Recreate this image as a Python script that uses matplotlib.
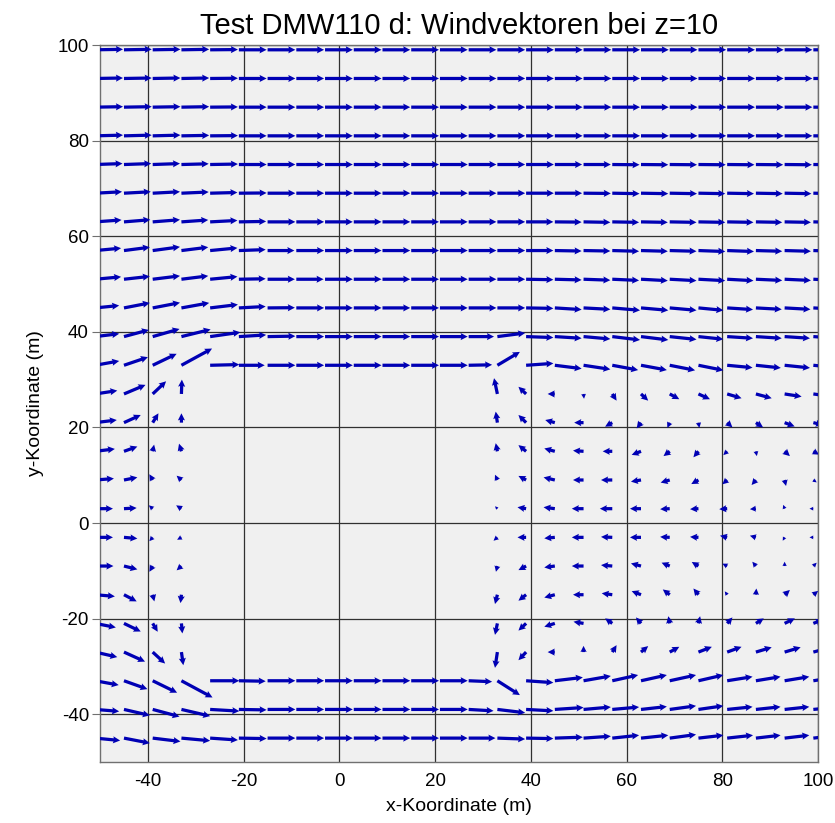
import numpy as np
import matplotlib
matplotlib.use("Agg")
import matplotlib.pyplot as plt

N = np.nan

# grid of vector tails (m)
x_coords = [-51, -45, -39, -33, -27, -21, -15, -9, -3, 3, 9, 15, 21, 27,
            33, 39, 45, 51, 57, 63, 69, 75, 81, 87, 93, 99]
y_coords = [99, 93, 87, 81, 75, 69, 63, 57, 51, 45, 39, 33, 27, 21, 15, 9,
            3, -3, -9, -15, -21, -27, -33, -39, -45]

# vector components (drawn in m), one row per y, NaN = inside building
u_rows = [
    [5.8, 5.8, 5.8, 5.8, 5.8, 5.8, 5.8, 5.8, 5.8, 5.8, 5.8, 5.8, 5.8, 5.8, 5.8, 5.8, 5.8, 5.8, 5.8, 5.8, 5.8, 5.8, 5.8, 5.8, 5.8, 5.8],
    [5.8, 5.8, 5.8, 5.8, 5.8, 5.8, 5.8, 5.8, 5.8, 5.8, 5.8, 5.8, 5.8, 5.8, 5.8, 5.8, 5.8, 5.8, 5.8, 5.8, 5.8, 5.8, 5.8, 5.8, 5.8, 5.8],
    [5.8, 5.8, 5.8, 5.8, 5.8, 5.8, 5.8, 5.8, 5.8, 5.8, 5.8, 5.8, 5.8, 5.8, 5.8, 5.8, 5.8, 5.8, 5.8, 5.8, 5.8, 5.8, 5.8, 5.8, 5.8, 5.8],
    [5.8, 5.8, 5.8, 5.8, 5.8, 5.8, 5.8, 5.8, 5.8, 5.8, 5.8, 5.8, 5.8, 5.8, 5.8, 5.8, 5.8, 5.8, 5.8, 5.8, 5.8, 5.8, 5.8, 5.8, 5.8, 5.8],
    [5.7, 5.7, 5.7, 5.7, 5.8, 5.8, 5.8, 5.8, 5.8, 5.8, 5.8, 5.8, 5.8, 5.8, 5.8, 5.8, 5.7, 5.7, 5.7, 5.7, 5.7, 5.7, 5.7, 5.7, 5.7, 5.7],
    [5.6, 5.6, 5.7, 5.7, 5.7, 5.8, 5.8, 5.8, 5.8, 5.8, 5.8, 5.8, 5.8, 5.8, 5.8, 5.8, 5.7, 5.7, 5.7, 5.7, 5.7, 5.6, 5.6, 5.6, 5.6, 5.6],
    [5.5, 5.5, 5.7, 5.6, 5.7, 5.7, 5.8, 5.8, 5.8, 5.8, 5.8, 5.8, 5.8, 5.8, 5.8, 5.7, 5.6, 5.6, 5.6, 5.6, 5.6, 5.6, 5.5, 5.5, 5.5, 5.5],
    [5.4, 5.4, 5.7, 5.6, 5.7, 5.6, 5.6, 5.8, 5.8, 5.8, 5.8, 5.8, 5.8, 5.8, 5.8, 5.7, 5.6, 5.6, 5.6, 5.6, 5.6, 5.6, 5.6, 5.5, 5.5, 5.4],
    [5.4, 5.4, 5.7, 5.6, 5.7, 5.6, 5.7, 5.7, 5.8, 5.8, 5.8, 5.8, 5.8, 5.8, 5.8, 5.7, 5.6, 5.6, 5.6, 5.6, 5.6, 5.6, 5.5, 5.5, 5.5, 5.4],
    [5.0, 5.4, 5.7, 5.8, 5.8, 5.6, 5.7, 5.8, 5.8, 5.8, 5.8, 5.8, 5.8, 5.8, 5.8, 5.7, 5.6, 5.6, 5.8, 5.7, 5.6, 5.2, 5.4, 5.4, 5.4, 5.4],
    [5.0, 5.2, 5.6, 6.1, 6.3, 5.7, 5.8, 5.8, 5.8, 5.8, 5.8, 5.8, 5.8, 5.3, 5.8, 5.7, 5.6, 5.6, 5.8, 5.7, 5.6, 5.2, 5.4, 5.4, 5.3, 5.3],
    [5.0, 5.0, 5.0, 6.4, 6.1, 5.4, 5.8, 5.8, 5.8, 5.8, 5.8, 5.8, 5.8, 4.9, 4.7, 5.7, 5.6, 5.6, 5.4, 5.4, 5.3, 5.2, 5.3, 5.2, 5.3, 5.0],
    [4.6, 4.5, 2.8, 0.1, N, N, N, N, N, N, N, N, N, N, -0.7, -1.6, -1.5, 0.1, 0.9, 1.5, 2.0, 2.4, 3.0, 3.3, 3.55, 3.5],
    [4.5, 3.5, 1.2, 0.0, N, N, N, N, N, N, N, N, N, N, -0.35, -1.6, -2.0, -1.95, -1.5, -0.9, -0.5, 0.2, 1.1, 1.5, 2.1, 2.0],
    [4.1, 2.8, 0.3, -0.5, N, N, N, N, N, N, N, N, N, N, -0.35, -1.6, -2.2, -2.2, -2.0, -1.95, -1.3, -1.05, -0.8, 0.2, 1.1, 1.2],
    [3.9, 2.8, -0.7, -1.0, N, N, N, N, N, N, N, N, N, N, -0.5, -1.6, -2.35, -2.2, -2.35, -2.1, -1.9, -1.5, -1.0, -0.9, 0.3, 0.7],
    [3.7, 2.65, -0.8, -1.1, N, N, N, N, N, N, N, N, N, N, -0.5, -1.8, -2.35, -2.45, -2.6, -2.3, -2.0, -1.75, -1.65, -1.25, -0.3, -0.8],
    [3.7, 2.8, -0.7, -0.9, N, N, N, N, N, N, N, N, N, N, -0.8, -1.8, -2.2, -2.45, -2.35, -2.3, -2.0, -1.75, -1.5, -1.25, -0.4, -0.8],
    [3.8, 2.8, -0.7, -1.0, N, N, N, N, N, N, N, N, N, N, -0.3, -1.6, -2.2, -2.45, -2.35, -2.1, -1.7, -1.4, -1.0, -0.75, 0.0, 0.7],
    [4.1, 2.65, 0.35, -0.2, N, N, N, N, N, N, N, N, N, N, -0.5, -1.6, -2.2, -2.2, -2.2, -1.95, -1.45, -1.05, -0.5, 0.1, 1.1, 1.0],
    [4.3, 3.5, 1.05, 0.2, N, N, N, N, N, N, N, N, N, N, -0.5, -1.6, -2.2, -2.1, -1.5, -1.05, -0.3, 0.35, 1.1, 1.65, 2.15, 2.0],
    [4.6, 4.4, 2.6, 0.4, N, N, N, N, N, N, N, N, N, N, -0.5, -1.6, -1.5, 0.0, 0.9, 1.5, 2.0, 2.8, 3.0, 3.3, 3.35, 3.3],
    [4.9, 4.9, 5.1, 6.5, 6.1, 5.6, 5.8, 5.8, 5.8, 5.8, 5.8, 5.8, 5.8, 4.9, 4.7, 5.7, 5.85, 5.7, 5.4, 5.4, 5.5, 5.2, 5.3, 5.15, 5.15, 5.0],
    [5.0, 5.4, 5.6, 6.0, 6.1, 5.8, 5.8, 5.8, 5.8, 5.8, 5.8, 5.8, 5.8, 5.2, 5.8, 5.7, 6.0, 5.7, 5.6, 5.4, 5.5, 5.2, 5.3, 5.15, 5.15, 5.1],
    [5.2, 5.4, 5.8, 6.0, 5.8, 5.8, 5.8, 5.8, 5.8, 5.8, 5.8, 5.8, 5.8, 5.6, 5.8, 5.7, 5.85, 5.7, 5.6, 5.7, 5.5, 5.2, 5.4, 5.15, 5.15, 5.1],
]

v_rows = [
    [0.1, 0.1, 0.1, 0.1, 0.05, 0, 0, 0, 0, 0, 0, 0, 0, 0, 0, 0, 0, 0, 0, 0, 0, 0, 0, 0, 0, 0],
    [0.1, 0.1, 0.1, 0.1, 0.05, 0, 0, 0, 0, 0, 0, 0, 0, 0, 0, 0, 0, 0, 0, 0, 0, 0, 0, 0, 0, 0],
    [0.1, 0.1, 0.1, 0.1, 0.05, 0, 0, 0, 0, 0, 0, 0, 0, 0, 0, 0, 0, 0, 0, 0, 0, 0, 0, 0, 0, 0],
    [0.15, 0.15, 0.15, 0.1, 0.05, 0, 0, 0, 0, 0, 0, 0, 0, 0, 0, 0, 0, 0, 0, 0, 0, 0, 0, 0, 0, 0],
    [0.2, 0.2, 0.2, 0.15, 0.1, 0, 0, 0, 0, 0, 0, 0, 0, 0, 0, 0, 0, 0, -0.05, -0.05, -0.05, -0.05, -0.05, -0.05, -0.05, -0.05],
    [0.3, 0.3, 0.3, 0.25, 0.15, 0.05, 0, 0, 0, 0, 0, 0, 0, 0, 0, 0, 0, -0.05, -0.1, -0.1, -0.1, -0.1, -0.1, -0.1, -0.1, -0.1],
    [0.4, 0.45, 0.45, 0.4, 0.3, 0.1, 0, 0, 0, 0, 0, 0, 0, 0, 0, 0, -0.05, -0.1, -0.1, -0.1, -0.1, -0.1, -0.1, -0.1, -0.1, -0.1],
    [0.5, 0.7, 0.77, 0.7, 0.55, 0.2, 0, 0, 0, 0, 0, 0, 0, 0, 0, 0, -0.1, -0.1, -0.15, -0.15, -0.15, -0.2, -0.2, -0.15, -0.15, -0.15],
    [0.5, 0.6, 0.7, 0.7, 0.55, 0.1, 0, 0, 0, 0, 0, 0, 0, 0, 0, -0.1, -0.15, -0.2, -0.25, -0.3, -0.3, -0.3, -0.3, -0.25, -0.25, -0.25],
    [0.5, 1.05, 1.1, 1.05, 0.7, 0.3, 0.05, 0, 0, 0, 0, 0, 0, 0, 0, -0.1, -0.35, -0.3, -0.5, -0.5, -0.5, -0.5, -0.35, -0.3, -0.3, -0.3],
    [0.6, 1.4, 1.6, 1.5, 0.9, 0.35, 0.1, 0, 0, 0, 0, 0, 0, 0, 0.75, -0.2, -0.35, -0.5, -0.7, -0.7, -0.6, -0.55, -0.35, -0.35, -0.35, -0.35],
    [0.9, 1.7, 2.4, 3.5, 0.15, 0, 0, 0, 0, 0, 0, 0, 0, 0.1, 2.8, 0.4, -0.7, -0.85, -1.0, -1.0, -1.05, -1.05, -0.5, -0.55, -0.55, -0.5],
    [0.7, 1.9, 2.65, 3.0, N, N, N, N, N, N, N, N, N, N, 3.3, 1.5, 0.0, -1.0, -1.4, -1.4, -1.1, -1.1, -0.9, -0.9, -0.55, -0.5],
    [0.55, 1.6, 1.95, 1.95, N, N, N, N, N, N, N, N, N, N, 2.3, 1.6, 0.55, 0.0, -0.85, -1.2, -1.1, -1.1, -1.0, -1.0, -0.8, -0.5],
    [0.5, 1.0, 1.4, 1.6, N, N, N, N, N, N, N, N, N, N, 1.7, 1.3, 0.6, 0.15, 0.0, -0.75, -1.0, -1.25, -0.8, -1.0, -1.0, -0.7],
    [0.3, 0.55, 1.2, 0.9, N, N, N, N, N, N, N, N, N, N, 1.1, 0.85, 0.55, 0.0, 0.0, -0.35, -0.55, -0.85, -0.9, -1.05, -1.25, -0.5],
    [0.0, 0.15, 0.7, 0.7, N, N, N, N, N, N, N, N, N, N, 0.5, 0.3, 0.3, 0.0, 0.0, 0.0, -0.1, -0.1, -0.1, -0.1, 0.8, 0.0],
    [0.0, -0.25, -0.8, -0.5, N, N, N, N, N, N, N, N, N, N, -0.7, 0.0, -0.2, 0.0, 0.1, 0.0, 0.1, 0.1, 0.35, 0.35, -0.7, 0.0],
    [0.0, -0.7, -1.2, -0.9, N, N, N, N, N, N, N, N, N, N, -1.2, -0.85, -0.3, 0.0, 0.2, 0.55, 0.7, 0.85, 0.5, 0.9, 0.9, 0.7],
    [-0.35, -1.4, -1.4, -1.75, N, N, N, N, N, N, N, N, N, N, -1.95, -1.25, -0.6, 0.0, 0.3, 0.75, 1.1, 1.3, 0.7, 1.3, 1.0, 0.8],
    [-0.85, -1.7, -1.75, -2.1, N, N, N, N, N, N, N, N, N, N, -2.4, -1.5, -0.7, 0.35, 1.05, 1.25, 1.5, 1.5, 1.25, 1.05, 1.05, 0.8],
    [-1.05, -2.0, -2.4, -2.75, N, N, N, N, N, N, N, N, N, N, -3.3, -1.7, 0.0, 1.3, 1.45, 1.25, 1.1, 1.1, 1.1, 1.0, 1.0, 0.9],
    [-0.9, -1.75, -2.5, -3.5, 0.0, -0.1, 0, 0, 0, 0, 0, 0, 0, -0.2, -3.0, -0.4, 0.7, 1.0, 1.2, 1.2, 1.2, 1.2, 0.85, 0.85, 0.85, 0.8],
    [-0.4, -1.25, -1.5, -1.4, -0.35, -0.1, 0, 0, 0, 0, 0, 0, 0, -0.3, -0.7, -0.3, 0.4, 0.5, 0.5, 0.6, 0.75, 0.75, 0.55, 0.55, 0.55, 0.5],
    [-0.5, -1.05, -0.7, -0.55, -0.4, -0.1, 0, 0, 0, 0, 0, 0, 0, 0.0, -0.2, -0.1, 0.2, 0.4, 0.6, 0.6, 0.75, 0.6, 0.6, 0.6, 0.6, 0.6],
]

X, Y = np.meshgrid(x_coords, y_coords)
U = np.array(u_rows, dtype=float)
V = np.array(v_rows, dtype=float)

plt.rcParams['font.family'] = ['Liberation Sans', 'DejaVu Sans']
plt.rcParams['axes.unicode_minus'] = False

fig = plt.figure(figsize=(8.35, 8.23), dpi=100)
ax = fig.add_axes([0.1198, 0.0741, 0.86, 0.8712])
ax.set_facecolor('#F0F0F0')

ax.quiver(X, Y, U, V, angles='xy', scale_units='xy', scale=1,
          color='#0000B4', width=0.0045, headwidth=2.2, headlength=2.2,
          headaxislength=2.0, pivot='tail', zorder=3)

ax.set_xlim(-50, 100)
ax.set_ylim(-50, 100)
ax.set_xticks(range(-40, 101, 20))
ax.set_yticks(range(-40, 101, 20))
ax.grid(True, color='#303030', lw=0.9, zorder=1)
ax.set_axisbelow(True)
for s in ax.spines.values():
    s.set_color('#707070')
    s.set_linewidth(1.0)
ax.tick_params(axis='y', length=6, direction='out', labelsize=13.5, pad=2, color='#707070')
ax.tick_params(axis='x', length=0, labelsize=13.5, pad=8)

ax.set_title("Test DMW110 d: Windvektoren bei z=10", fontsize=21, pad=8)
ax.set_xlabel("x-Koordinate (m)", fontsize=14, labelpad=6)
ax.set_ylabel("y-Koordinate (m)", fontsize=14, labelpad=10)

fig.savefig("out.png", dpi=100)
